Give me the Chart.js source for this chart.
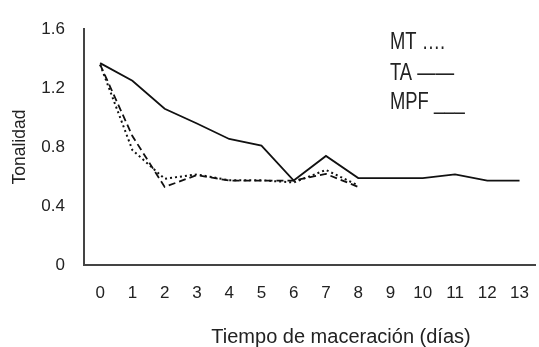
<!DOCTYPE html>
<html>
<head>
<meta charset="utf-8">
<script src="https://cdn.jsdelivr.net/npm/chart.js@4"></script>
<style>
  body { margin: 0; overflow: hidden; background: #fff; }
  #wrap { width: 539px; height: 347px; overflow: hidden; }
</style>
</head>
<body>
<div id="wrap"><canvas id="mychart" width="547" height="347"></canvas></div>
<script>
const days = ["0", "1", "2", "3", "4", "5", "6", "7", "8", "9", "10", "11", "12", "13"];
const ta = [1.37, 1.25, 1.06, 0.96, 0.855, 0.81, 0.573, 0.74, 0.59, 0.59, 0.59, 0.615, 0.573, 0.573];
const mt = [1.36, 0.78, 0.585, 0.615, 0.575, 0.575, 0.56, 0.645, 0.54];
const mpf = [1.36, 0.875, 0.53, 0.61, 0.573, 0.573, 0.573, 0.618, 0.53];
const legendText = ["MT ….", "TA ——", "MPF ___"];
const xTitle = "Tiempo de maceración (días)";
const yTitle = "Tonalidad";
const yTicks = [0, 0.4, 0.8, 1.2, 1.6];

const FONT = "'Liberation Sans', Arial, sans-serif";

// legend and x title are plain text in the original, drawn here on the chart canvas
const textBits = {
  id: "textBits",
  afterDraw(chart) {
    const ctx = chart.ctx;
    ctx.save();
    ctx.fillStyle = "#222";
    ctx.textBaseline = "alphabetic";

    ctx.font = "20px " + FONT;
    ctx.textAlign = "center";
    ctx.fillText(xTitle, 341, 343);

    // the legend lettering is condensed
    ctx.font = "23px " + FONT;
    ctx.textAlign = "left";
    const base = [49, 80, 109];
    legendText.forEach((t, i) => {
      ctx.save();
      ctx.translate(390, base[i]);
      ctx.scale(0.8, 1);
      ctx.fillText(t, 0, 0);
      ctx.restore();
    });
    ctx.restore();
  },
};

var ctx = document.getElementById("mychart").getContext("2d");

var myChart = new Chart(ctx, {
  type: "line",
  data: {
    labels: days,
    datasets: [
      { label: "TA", data: ta, borderColor: "#111", borderWidth: 1.8 },
      { label: "MT", data: mt, borderColor: "#111", borderWidth: 2, borderDash: [2, 3] },
      { label: "MPF", data: mpf, borderColor: "#111", borderWidth: 1.8, borderDash: [7, 4] },
    ],
  },
  options: {
    responsive: false,
    animation: false,
    elements: { point: { radius: 0 }, line: { tension: 0 } },
    layout: { padding: { top: 27, right: 0, left: 0, bottom: 0 } },
    plugins: { legend: { display: false }, tooltip: { enabled: false } },
    scales: {
      x: {
        offset: true,
        grid: { display: false, drawTicks: false },
        border: { display: true, color: "#444", width: 2 },
        ticks: { color: "#222", font: { family: FONT, size: 17 }, padding: 18, maxRotation: 0, autoSkip: false },
        afterFit: (s) => { s.height = 82; },
      },
      y: {
        min: 0,
        max: 1.6,
        afterBuildTicks: (s) => { s.ticks = yTicks.map((v) => ({ value: v })); },
        grid: { display: false, drawTicks: false },
        border: { display: true, color: "#444", width: 2 },
        ticks: { color: "#222", font: { family: FONT, size: 17 }, padding: 19, callback: (v) => String(v) },
        title: { display: true, text: yTitle, color: "#222", font: { family: FONT, size: 17.5 }, padding: { top: 10, bottom: 0 } },
        afterFit: (s) => { s.width = 84; },
      },
    },
  },
  plugins: [textBits],
});
</script>
</body>
</html>
